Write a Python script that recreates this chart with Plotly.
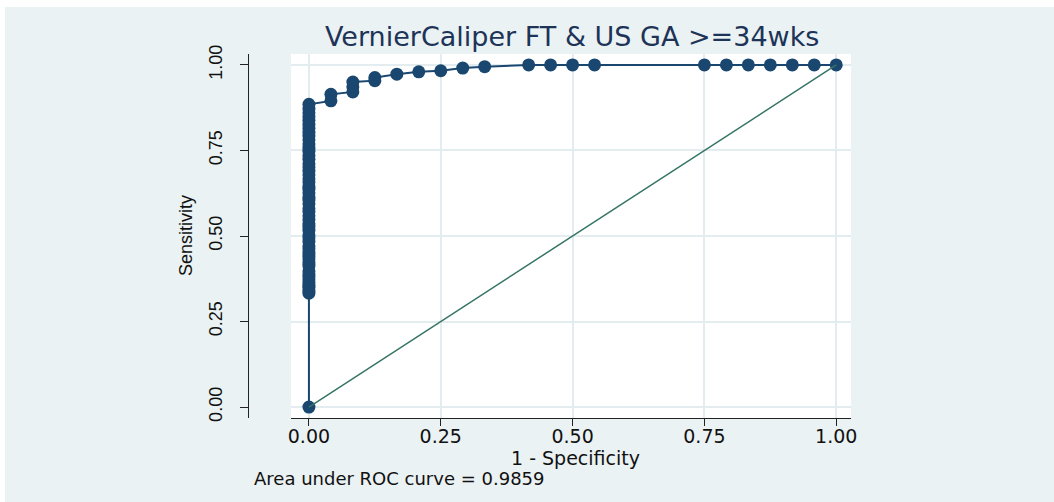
import plotly.graph_objects as go

# ROC operating points: 1 - specificity and sensitivity
fpr = [0.0] * 54 + [
    0.0417, 0.0417, 0.0833, 0.0833, 0.0833, 0.125, 0.125, 0.1667, 0.2083,
    0.25, 0.2917, 0.3333, 0.4167, 0.4583, 0.5, 0.5417,
    0.75, 0.7917, 0.8333, 0.875, 0.9167, 0.9583, 1.0,
]
sens = [
    0.000, 0.333, 0.341, 0.350, 0.356, 0.364, 0.372, 0.380, 0.389, 0.398,
    0.412, 0.421, 0.433, 0.441, 0.452, 0.463, 0.471, 0.484, 0.495, 0.503,
    0.517, 0.528, 0.536, 0.548, 0.559, 0.571, 0.580, 0.594, 0.605, 0.613,
    0.626, 0.637, 0.645, 0.658, 0.667, 0.679, 0.690, 0.702, 0.711, 0.724,
    0.735, 0.748, 0.757, 0.769, 0.781, 0.792, 0.803, 0.815, 0.826, 0.838,
    0.849, 0.860, 0.871, 0.885,
    0.895, 0.914, 0.921, 0.936, 0.950, 0.954, 0.963, 0.973, 0.980,
    0.983, 0.991, 0.995, 1.0, 1.0, 1.0, 1.0,
    1.0, 1.0, 1.0, 1.0, 1.0, 1.0, 1.0,
]

# chance (45-degree) reference line
ref_x = [0, 1]
ref_y = [0, 1]

tick_vals = [0, 0.25, 0.5, 0.75, 1]
tick_text = ["0.00", "0.25", "0.50", "0.75", "1.00"]

title_text = "VernierCaliper FT & US GA >=34wks"
x_title = "1 - Specificity"
y_title = "Sensitivity"
auc_note = "Area under ROC curve = 0.9859"

NAVY = "#1a476f"
REF_COL = "#367566"
BG = "#eaf2f3"
GRID = "#e3ecef"

W, H = 1054, 502
L, R, T, B = 248, 203, 54, 84
PW, PH = W - L - R, H - T - B


def px(x):
    return (x - L) / PW


def py(y):
    return (H - B - y) / PH


fig = go.Figure()
fig.add_trace(go.Scatter(
    x=fpr, y=sens, mode="lines+markers",
    line=dict(color=NAVY, width=2),
    marker=dict(color=NAVY, size=13, line=dict(width=0)),
    showlegend=False, hoverinfo="skip",
))
fig.add_trace(go.Scatter(
    x=ref_x, y=ref_y, mode="lines",
    line=dict(color=REF_COL, width=1.5),
    showlegend=False, hoverinfo="skip",
))

tick_font = dict(family="DejaVu Sans", size=19, color="#111111")

fig.update_layout(
    width=W, height=H,
    margin=dict(l=L, r=R, t=T, b=B, pad=0),
    paper_bgcolor=BG, plot_bgcolor="white",
    xaxis=dict(
        domain=[px(291), 1], range=[-0.034, 1.028],
        tickvals=tick_vals, ticktext=tick_text, tickfont=tick_font,
        ticks="outside", ticklen=7, tickwidth=1.2, tickcolor="#222222",
        showline=True, linecolor="#222222", linewidth=1.2,
        showgrid=True, gridcolor=GRID, gridwidth=2.2,
        zeroline=False, ticklabelstandoff=-6,
    ),
    yaxis=dict(
        anchor="free", position=0, domain=[0, 1], range=[-0.032, 1.032],
        tickvals=tick_vals, ticktext=tick_text, tickangle=-90,
        tickfont=dict(family="Liberation Sans", size=18, color="#111111"),
        ticks="outside", ticklen=8, tickwidth=1.2, tickcolor="#222222",
        showline=True, linecolor="#222222", linewidth=1.2,
        showgrid=True, gridcolor=GRID, gridwidth=2.2,
        zeroline=False, ticklabelstandoff=11,
    ),
    annotations=[
        dict(text=title_text, xref="paper", yref="paper", x=px(572), y=py(37),
             xanchor="center", yanchor="middle", showarrow=False,
             font=dict(family="DejaVu Sans", size=27, color="#1d3458")),
        dict(text=x_title, xref="paper", yref="paper", x=px(575), y=py(458),
             xanchor="center", yanchor="middle", showarrow=False, borderpad=0,
             font=dict(family="DejaVu Sans", size=19, color="#111111")),
        dict(text=y_title, xref="paper", yref="paper", x=px(186), y=py(236),
             xanchor="center", yanchor="middle", showarrow=False, textangle=-90,
             font=dict(family="Liberation Sans", size=18, color="#111111")),
        dict(text=auc_note, xref="paper", yref="paper", x=px(253), y=py(478),
             xanchor="left", yanchor="middle", showarrow=False, borderpad=0,
             font=dict(family="DejaVu Sans", size=18, color="#111111")),
    ],
    shapes=[
        dict(type="rect", xref="paper", yref="paper", layer="above",
             x0=px(0), x1=px(5), y0=py(H), y1=py(0),
             fillcolor="white", line=dict(width=0)),
        dict(type="rect", xref="paper", yref="paper", layer="above",
             x0=px(0), x1=px(W), y0=py(7), y1=py(0),
             fillcolor="white", line=dict(width=0)),
    ],
)

fig.write_html("out.html")
